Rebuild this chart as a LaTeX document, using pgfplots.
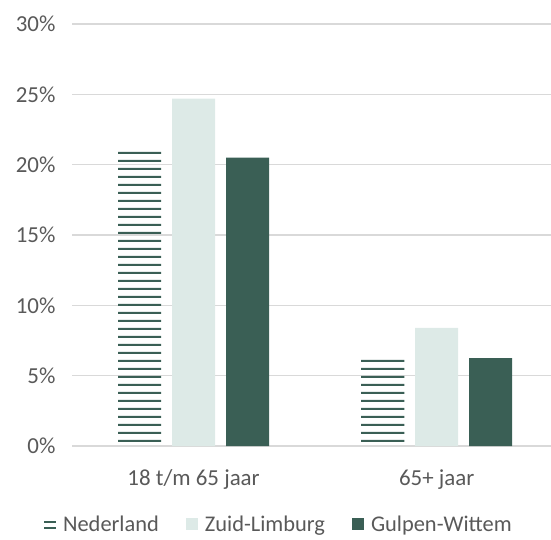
\documentclass[border=0pt]{standalone}
\usepackage{fontspec}
\setmainfont{Carlito}
\usepackage{pgfplots}
\pgfplotsset{compat=1.18}
\usetikzlibrary{patterns.meta}

\definecolor{dgreen}{HTML}{3A5F55}
\definecolor{lgreen}{HTML}{DDEAE7}
\definecolor{gridgray}{HTML}{D9D9D9}
\definecolor{txtgray}{HTML}{595959}

% horizontal stripes for Nederland
\tikzdeclarepattern{
  name=nlstripes,
  type=colored,
  bounding box={(0,0) and (1bp,7.8bp)},
  tile size={(1bp,7.8bp)},
  code={\fill[dgreen] (-0.2bp,5.3bp) rectangle (1.2bp,7.3bp);}
}

\begin{document}
\begin{tikzpicture}
\path[use as bounding box] (-72bp,-94bp) rectangle (479bp,446bp);
\begin{axis}[
  scale only axis,
  width=479bp, height=422bp,
  ymin=0, ymax=30, ytick={0,5,...,30},
  yticklabel={\pgfmathprintnumber{\tick}\%},
  /pgf/number format/assume math mode=true,
  xmin=-0.5, xmax=1.47,
  xtick={0,1}, xticklabels={18 t/m 65 jaar, 65+ jaar},
  ymajorgrids, grid style={gridgray, line width=1.2bp},
  axis line style={draw=none},
  major tick length=0pt,
  tick label style={font=\fontsize{23}{26}\selectfont, text=txtgray},
  yticklabel style={xshift=-13bp},
  xticklabel style={yshift=-20bp},
  ybar, bar width=0.177,
  legend style={at={(0.432,-0.185)}, anchor=center, draw=none,
    font=\fontsize{22.5}{26}\selectfont, text=txtgray,
    legend columns=3,
    /tikz/every odd column/.append style={column sep=5bp},
    /tikz/every even column/.append style={column sep=25bp}},
]
\addplot[draw=none, pattern=nlstripes, bar shift=-0.222,
  legend image code/.code={
    \fill[dgreen] (0bp,1.5bp) rectangle (12bp,3.3bp);
    \fill[dgreen] (0bp,-4.5bp) rectangle (12bp,-2.7bp);}]
  coordinates {(0,21.2) (1,6.3)};
\addlegendentry{Nederland}
\addplot[draw=none, fill=lgreen, bar shift=0,
  legend image code/.code={\fill[lgreen] (0bp,-6bp) rectangle (12bp,6bp);}]
  coordinates {(0,24.7) (1,8.4)};
\addlegendentry{Zuid-Limburg}
\addplot[draw=none, fill=dgreen, bar shift=0.222,
  legend image code/.code={\fill[dgreen] (0bp,-6bp) rectangle (12bp,6bp);}]
  coordinates {(0,20.5) (1,6.25)};
\addlegendentry{Gulpen-Wittem}
\end{axis}
\end{tikzpicture}
\end{document}
